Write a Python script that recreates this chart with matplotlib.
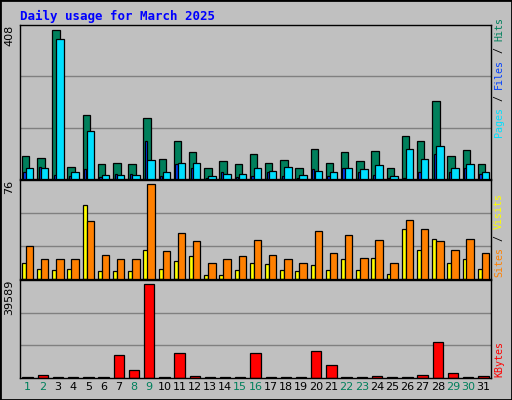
import numpy as np
import matplotlib
matplotlib.use('Agg')
import matplotlib.pyplot as plt

days = list(range(1, 32))
hits = [62, 56, 408, 34, 175, 40, 45, 40, 167, 54, 103, 73, 31, 48, 40, 67,
        45, 51, 29, 81, 45, 73, 48, 76, 31, 117, 103, 214, 62, 78, 42]
files = [29, 31, 383, 18, 131, 12, 12, 12, 51, 18, 45, 45, 9, 15, 15, 29,
         23, 34, 12, 23, 18, 31, 26, 37, 9, 81, 54, 90, 31, 42, 18]
pages = [18, 34, 12, 9, 26, 6, 15, 15, 103, 9, 40, 31, 4, 18, 6, 9,
         18, 9, 4, 26, 9, 31, 20, 12, 4, 4, 18, 67, 20, 31, 15]
sites = [26, 16, 16, 16, 46, 19, 16, 16, 76, 22, 37, 30, 13, 16, 18, 31,
         19, 16, 13, 38, 21, 35, 17, 31, 13, 47, 40, 30, 23, 32, 21]
visits = [13, 8, 7, 8, 59, 6, 6, 6, 23, 8, 14, 18, 3, 3, 7, 13,
          12, 7, 6, 11, 7, 16, 7, 17, 4, 40, 23, 32, 13, 16, 8]
kbytes = [300, 1450, 300, 300, 300, 300, 9680, 3180, 39589, 300, 10550, 1000, 300, 300, 300, 10550,
          300, 300, 300, 11400, 5350, 300, 300, 1000, 300, 300, 1450, 15300, 2300, 300, 1000]
weekends = [1, 2, 8, 9, 15, 16, 22, 23, 29, 30]

BG = '#c0c0c0'
W, H = 512, 400
fig = plt.figure(figsize=(5.12, 4.0), dpi=100, facecolor=BG)
fig.patches.append(plt.Rectangle((0, 0), 1, 1, transform=fig.transFigure,
                                 fill=False, edgecolor='black', lw=2))

def panel(top, bottom):
    # pixel coords -> figure fraction
    ax = fig.add_axes([20 / W, 1 - bottom / H, (491 - 20) / W, (bottom - top) / H])
    ax.set_facecolor(BG)
    ax.set_xlim(0.5, 31.5)
    ax.set_xticks([])
    ax.set_yticks([])
    for s in ax.spines.values():
        s.set_color('black')
        s.set_linewidth(1)
    return ax

def grid(ax, vmax, frac):
    top = vmax / frac
    ax.set_ylim(0, top)
    for f in (1 / 3, 2 / 3):
        ax.axhline(top * f, color='#808080', lw=1, zorder=0)

x = np.array(days)
mono = 'DejaVu Sans Mono'
ew = 0.9

# top panel
ax1 = panel(25, 179)
grid(ax1, max(hits), 0.97)
ax1.bar(x - 0.13, hits, width=0.49, color='#00805c', edgecolor='black', lw=ew, zorder=2)
ax1.bar(x - 0.2, pages, width=0.15, color='#0040ff', edgecolor='black', lw=ew, zorder=3)
ax1.bar(x + 0.13, files, width=0.49, color='#00e0ff', edgecolor='black', lw=ew, zorder=4)

# middle panel
ax2 = panel(180, 279)
grid(ax2, max(sites), 0.96)
ax2.bar(x - 0.24, visits, width=0.27, color='#ffff00', edgecolor='black', lw=ew, zorder=2)
ax2.bar(x + 0.13, sites, width=0.49, color='#ff8000', edgecolor='black', lw=ew, zorder=3)

# bottom panel
ax3 = panel(280, 378)
grid(ax3, max(kbytes), 0.955)
ax3.bar(x, kbytes, width=0.68, color='#ff0000', edgecolor='black', lw=ew, zorder=2)

for d in days:
    ax3.text(d, -0.04, str(d), transform=ax3.get_xaxis_transform(), ha='center', va='top',
             fontsize=8, family='DejaVu Sans',
             color='#00805c' if d in weekends else 'black')

fig.text(20 / W, 1 - 16 / H, 'Daily usage for March 2025', color='#0000ff',
         fontsize=9, fontweight='bold', family=mono, va='center', ha='left')

for ax, label in ((ax1, str(max(hits))), (ax2, str(max(sites))), (ax3, str(max(kbytes)))):
    ax.text(-0.012, 1.0, label, transform=ax.transAxes, rotation=90, ha='right', va='top',
            fontsize=8, family='DejaVu Sans')

FS = 7.2
CHAR_PX = 0.602 * FS * 100 / 72

def side_label(bottom_px, parts):
    # parts listed from bottom to top, placed by pixel offsets
    y = bottom_px
    for txt, col in parts:
        fig.text(494 / W, 1 - y / H, txt, rotation=90, ha='left', va='bottom',
                 fontsize=FS, family=mono, color=col)
        y -= len(txt) * CHAR_PX

side_label(137, [('Pages', '#00e0ff'), (' / ', 'black'), ('Files', '#0040ff'),
                 (' / ', 'black'), ('Hits', '#00805c')])
side_label(277, [('Sites', '#ff8000'), (' / ', 'black'), ('Visits', '#ffff00')])
side_label(377, [('KBytes', '#ff0000')])

fig.savefig('out.png', dpi=100, facecolor=BG)
